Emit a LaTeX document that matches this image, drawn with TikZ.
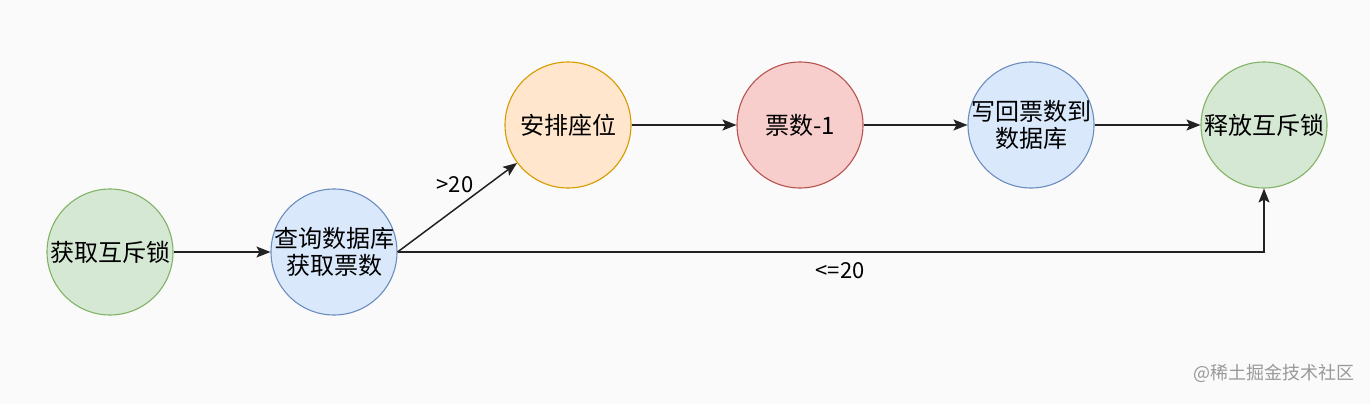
\documentclass[tikz,border=0pt]{standalone}
\usepackage{fontspec}
\setmainfont{Noto Sans CJK SC}
\usetikzlibrary{arrows.meta}
\definecolor{bg}{RGB}{250,250,250}
\definecolor{gfill}{HTML}{D5E8D4}\definecolor{gdraw}{HTML}{82B366}
\definecolor{bfill}{HTML}{DAE8FC}\definecolor{bdraw}{HTML}{6C8EBF}
\definecolor{ofill}{HTML}{FFE6CC}\definecolor{odraw}{HTML}{D79B00}
\definecolor{rfill}{HTML}{F8CECC}\definecolor{rdraw}{HTML}{B85450}
\definecolor{edge}{RGB}{34,34,34}
\tikzset{
  state/.style={circle, minimum size=126pt, inner sep=-12pt, line width=1.1pt, align=center,
    font=\fontsize{24}{27}\selectfont, text=black},
  green/.style={state, fill=gfill, draw=gdraw},
  blue/.style={state, fill=bfill, draw=bdraw},
  orange/.style={state, fill=ofill, draw=odraw},
  red/.style={state, fill=rfill, draw=rdraw},
  flow/.style={draw=edge, line width=1.5pt, -{Stealth[length=14pt,width=11pt,inset=3pt]}},
  lbl/.style={font=\fontsize{22}{25}\selectfont, text=black, inner sep=0pt}
}
\begin{document}
\begin{tikzpicture}[x=1pt,y=-1pt]
\path[fill=bg] (0,0) rectangle (1370,404);
\node[green]  (c1) at (110,252) {获取互斥锁};
\node[blue]   (c2) at (334,252) {查询数据库\\获取票数};
\node[orange] (c3) at (568,125) {安排座位};
\node[red]    (c4) at (800,125) {票数-1};
\node[blue]   (c5) at (1031,125) {写回票数到\\数据库};
\node[green]  (c6) at (1264,125) {释放互斥锁};
\draw[flow] (c1) -- (c2);
\draw[flow] (c2.east) -- (c3);
\draw[flow] (c3) -- (c4);
\draw[flow] (c4) -- (c5);
\draw[flow] (c5) -- (c6);
\coordinate (corner) at (c2.east -| c6.south);
\draw[flow] (c2.east) -- (corner) -- (c6.south);
\node[lbl] (l1) at (455,185) {>20};
\node[lbl] (l2) at (840,271) {<=20};
\node[font=\fontsize{18}{20}\selectfont, text=black!40, inner sep=0pt] (wm) at (1274,373) {@稀土掘金技术社区};
\end{tikzpicture}
\end{document}
